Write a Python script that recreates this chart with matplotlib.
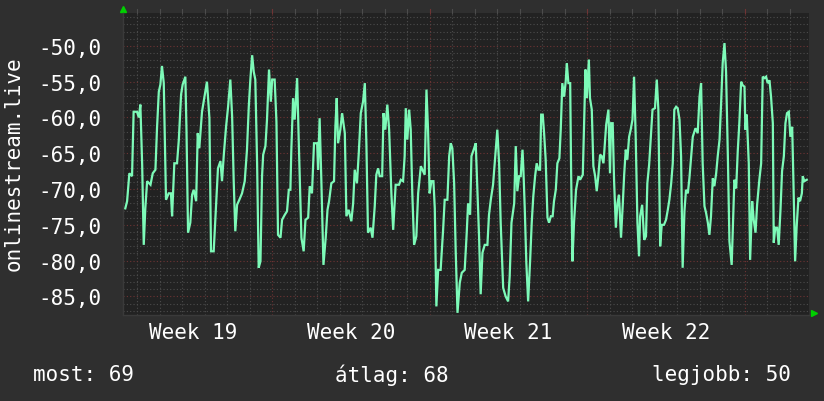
import matplotlib
matplotlib.use('Agg')
import matplotlib.pyplot as plt
import matplotlib.transforms as mtransforms
import numpy as np

# time in days since the Monday that starts week 19, value in dB
days = [
    0.46, 0.54, 0.64, 0.76, 0.83, 0.98, 1.06, 1.13, 1.21, 1.28, 1.35, 1.43, 1.58, 1.68, 1.80,
    1.87, 1.95, 2.02, 2.09, 2.17, 2.21, 2.27, 2.39, 2.49, 2.54, 2.64, 2.76, 2.84, 2.94, 3.01,
    3.13, 3.18, 3.25, 3.35, 3.43, 3.50, 3.61, 3.68, 3.75, 3.87, 3.98, 4.09, 4.20, 4.27, 4.39,
    4.50, 4.58, 4.69, 4.76, 4.84, 4.94, 5.03, 5.13, 5.21, 5.28, 5.35, 5.43, 5.53, 5.65, 5.77,
    5.87, 5.95, 6.02, 6.10, 6.17, 6.24, 6.32, 6.39,
    6.47, 6.54, 6.59, 6.69, 6.76, 6.85, 6.93, 6.99, 7.10, 7.18, 7.25, 7.36, 7.43, 7.55, 7.65,
    7.73, 7.80, 7.84, 7.92, 7.99, 8.10, 8.17, 8.29, 8.39, 8.47, 8.59, 8.66, 8.76, 8.85, 8.99,
    9.03, 9.10, 9.18, 9.27, 9.37, 9.45, 9.52, 9.62, 9.74, 9.80, 9.86, 9.92, 10.02, 10.10, 10.22,
    10.29, 10.39, 10.51, 10.59, 10.66, 10.76, 10.84, 10.93, 11.03, 11.11, 11.18, 11.25, 11.37,
    11.45, 11.55, 11.62, 11.70, 11.77, 11.88, 11.94, 12.02, 12.11, 12.19, 12.29, 12.37,
    12.48, 12.63, 12.71, 12.81, 12.88, 12.93, 13.00, 13.08, 13.15, 13.22, 13.30, 13.40, 13.48,
    13.60, 13.67, 13.77, 13.85, 13.92, 13.99, 14.07, 14.16, 14.22, 14.29, 14.37, 14.48, 14.59,
    14.66, 14.78, 14.86, 14.93, 15.00, 15.08, 15.15, 15.23, 15.33, 15.42, 15.55, 15.64, 15.70,
    15.79, 15.85, 15.97, 16.04, 16.12, 16.19, 16.26, 16.34, 16.44, 16.56, 16.63, 16.71, 16.81,
    16.93, 17.00, 17.08, 17.15, 17.26, 17.37, 17.48, 17.55, 17.63, 17.75, 17.82, 17.89, 17.97,
    18.04, 18.12, 18.16, 18.22, 18.29, 18.37, 18.46,
    18.53, 18.60, 18.68, 18.75, 18.83, 18.90, 18.95, 19.02, 19.08, 19.15, 19.23, 19.30, 19.38,
    19.46, 19.52, 19.60, 19.67, 19.76, 19.82, 19.89, 19.97, 20.04, 20.09, 20.16, 20.24, 20.28,
    20.34, 20.41, 20.50, 20.61, 20.68, 20.80, 20.86, 20.92, 20.98, 21.07, 21.12, 21.20, 21.27,
    21.35, 21.42, 21.49, 21.57, 21.64, 21.72, 21.84, 21.94, 22.01, 22.06, 22.13, 22.19, 22.27,
    22.34, 22.41, 22.50, 22.58, 22.64, 22.71, 22.78, 22.86, 22.93, 23.01, 23.08, 23.15, 23.23,
    23.30, 23.35, 23.44, 23.53, 23.61, 23.67, 23.75, 23.82, 23.90, 24.01, 24.09, 24.16, 24.24,
    24.31, 24.41, 24.50,
    24.58, 24.65, 24.73, 24.80, 24.87, 24.95, 25.02, 25.10, 25.17, 25.24, 25.32, 25.39, 25.47,
    25.54, 25.62, 25.69, 25.81, 25.91, 25.99, 26.06, 26.13, 26.21, 26.28, 26.36, 26.43, 26.50,
    26.58, 26.65, 26.73, 26.80, 26.88, 26.95, 27.02, 27.10, 27.17, 27.25, 27.32, 27.42, 27.54,
    27.62, 27.69, 27.76, 27.84, 27.91, 27.99, 28.03, 28.09, 28.18, 28.24, 28.33, 28.40, 28.48,
    28.55, 28.65, 28.73, 28.80, 28.88, 28.95, 29.02, 29.10, 29.17, 29.25, 29.29, 29.36, 29.44,
    29.51, 29.59, 29.66, 29.74, 29.81, 29.88, 29.96, 30.03, 30.11, 30.17, 30.24, 30.31, 30.39,
    30.46, 30.54, 30.58, 30.65, 30.76,
]

signal = [
    -72.7, -71.7, -67.8, -68.2, -59.2, -59.2, -60.0, -58.2, -66.6, -77.8, -72.7, -68.9, -69.4, -67.8, -67.3,
    -61.5, -56.4, -55.4, -52.8, -55.2, -61.7, -71.5, -70.6, -70.6, -73.8, -66.4, -66.4, -63.1, -56.8, -55.4,
    -54.3, -61.7, -76.1, -74.7, -70.8, -70.1, -71.7, -62.2, -64.3, -59.2, -57.1, -55.0, -60.1, -78.7, -78.7,
    -72.0, -67.1, -66.1, -68.9, -65.2, -61.3, -58.5, -54.7, -59.9, -68.9, -75.9, -72.2, -71.5, -70.6, -68.9,
    -64.5, -58.5, -54.7, -51.3, -53.6, -54.7, -66.4, -81.0,
    -80.1, -68.2, -65.2, -64.0, -60.3, -53.3, -57.8, -54.7, -54.7, -60.6, -76.4, -76.8, -74.3, -73.6, -73.1,
    -70.1, -70.1, -64.7, -57.3, -60.3, -54.5, -63.1, -76.8, -78.7, -74.3, -74.0, -69.6, -70.6, -63.6, -63.6,
    -67.3, -60.1, -69.2, -80.6, -76.8, -72.9, -71.7, -69.2, -68.9, -61.3, -57.3, -63.6, -61.7, -59.4, -62.2,
    -73.8, -72.9, -74.5, -72.0, -67.3, -69.2, -65.0, -59.4, -57.8, -55.2, -63.8, -76.1, -75.4,
    -76.8, -72.4, -68.0, -67.1, -68.2, -68.2, -59.4, -61.7, -58.2, -61.7, -70.6, -75.7,
    -69.4, -69.4, -68.7, -68.9, -65.4, -58.7, -63.1, -58.9, -61.7, -70.6, -77.8, -76.6, -70.6,
    -66.8, -67.3, -68.0, -56.1, -61.7, -70.6, -68.9, -68.9, -72.7, -86.4, -81.3, -81.3, -75.7,
    -71.5, -71.5, -65.4, -63.6, -64.3, -69.2, -78.7, -87.3, -83.1, -81.7, -81.3, -76.1, -72.0,
    -73.6, -65.4, -64.3, -63.6, -70.6, -76.8, -84.7, -78.9, -77.8, -77.8, -73.6, -71.5, -69.4,
    -64.5, -61.7, -66.4, -74.7, -83.8, -85.0, -85.7, -82.2, -74.7, -72.0, -64.0, -70.3, -68.2,
    -68.2, -64.5, -67.3, -72.7, -80.3, -85.7, -79.9,
    -74.7, -71.0, -68.2, -66.4, -67.3, -67.3, -59.6, -59.6, -62.2, -65.9, -74.0, -74.7, -73.8,
    -73.8, -71.7, -70.1, -66.4, -65.7, -61.7, -55.2, -57.1, -55.0, -52.4, -55.2, -55.2, -67.3,
    -80.1, -74.7, -70.1, -68.2, -68.7, -68.0, -60.8, -53.3, -57.3, -51.9, -57.3, -58.9, -66.8,
    -68.2, -70.3, -68.2, -65.2, -65.4, -66.4, -61.0, -58.9, -67.8, -60.8, -60.8, -68.7, -75.4,
    -72.0, -70.8, -76.8, -72.0, -68.0, -64.5, -65.9, -62.7, -61.7, -60.3, -54.3, -62.4, -74.7,
    -79.4, -73.8, -72.2, -77.1, -76.6, -69.2, -66.6, -62.9, -58.9, -58.7, -54.7, -58.9, -78.0,
    -75.0, -75.0, -74.3,
    -72.9, -71.5, -69.2, -66.4, -58.9, -58.5, -58.7, -60.3, -65.4, -81.0, -73.1, -70.1, -70.6,
    -68.5, -65.4, -62.7, -61.5, -62.2, -57.1, -55.2, -66.4, -72.4, -73.3, -74.7, -76.4, -73.8,
    -68.5, -69.6, -67.8, -65.4, -63.1, -58.0, -52.4, -49.6, -53.6, -65.4, -77.3, -80.6, -68.7,
    -69.9, -64.7, -60.8, -55.0, -55.5, -55.7, -61.7, -59.6, -66.4, -79.9, -71.7, -74.3, -76.1,
    -72.2, -68.7, -66.4, -54.3, -54.5, -54.3, -55.2, -54.8, -57.1, -60.8, -77.5, -75.4, -75.4,
    -77.8, -72.9, -67.5, -65.4, -60.8, -59.4, -59.2, -62.7, -61.3, -69.6, -80.1, -75.2, -71.2,
    -71.7, -70.6, -68.2, -68.9, -68.7,
]

week_labels = ['Week 19', 'Week 20', 'Week 21', 'Week 22']
ytick_values = [-50, -55, -60, -65, -70, -75, -80, -85]
series_name = 'onlinestream.live'
summary = {'most': 69, 'átlag': 68, 'legjobb': 50}

BG = '#2f2f2f'
CANVAS = '#222222'
LINE = '#7dfab8'
MINOR = '#4c4c4c'
MAJOR = '#6e3434'
ARROW = '#00d000'
FONT = 'DejaVu Sans Mono'

W, H = 824, 402
fig = plt.figure(figsize=(W / 100, H / 100), dpi=100, facecolor=BG)
ax = fig.add_axes([123.5 / W, (H - 316) / H, 686 / W, 302 / H], facecolor=CANVAS)

ax.set_xlim(0.38, 30.88)
ax.set_ylim(-87.6, -45.4)

# grid: minor every day / 1 dB, major every week / 5 dB
dot = (0, (1, 2))
top_ticks = mtransforms.blended_transform_factory(ax.transData, ax.transAxes)
for d in np.arange(1, 31):
    c = MAJOR if d % 7 == 0 else MINOR
    ax.axvline(d, color=c, lw=0.8, ls=dot, zorder=1)
    # small tick poking out above the canvas
    ax.plot([d, d], [1.0, 1.012], color=c, lw=0.8, transform=top_ticks, clip_on=False)
for v in np.arange(-87, -45):
    c = MAJOR if v % 5 == 0 else MINOR
    ax.axhline(v, color=c, lw=0.8, ls=dot, zorder=1)

ax.plot(days, signal, color=LINE, lw=1.6, zorder=3, solid_joinstyle='miter')

ax.set_yticks(ytick_values)
ax.set_yticklabels([f'{v:.1f}'.replace('.', ',') for v in ytick_values])
ax.set_xticks([3.5 + 7 * i for i in range(len(week_labels))])
ax.set_xticklabels(week_labels)
ax.tick_params(axis='both', length=0, colors='white', labelsize=15)
ax.tick_params(axis='y', pad=16)
ax.tick_params(axis='x', pad=5)
for lab in ax.get_xticklabels() + ax.get_yticklabels():
    lab.set_family(FONT)

for s in ['top', 'right']:
    ax.spines[s].set_visible(False)
for s in ['left', 'bottom']:
    ax.spines[s].set_color('#3a3a3a')
    ax.spines[s].set_linewidth(1.0)

# rrdtool-style axis arrows
ax.plot([0], [1.012], marker='^', ms=5, color=ARROW, transform=ax.transAxes, clip_on=False)
ax.plot([1.006], [0.005], marker='>', ms=5, color=ARROW, transform=ax.transAxes, clip_on=False)

fig.text(14 / W, 1 - 164 / H, series_name, rotation=90, ha='center', va='center',
         color='white', family=FONT, fontsize=15)

keys = list(summary.keys())
fig.text(33 / W, 1 - 375 / H, f'{keys[0]}: {summary[keys[0]]}', ha='left', va='center',
         color='white', family=FONT, fontsize=15)
fig.text(392 / W, 1 - 375 / H, f'{keys[1]}: {summary[keys[1]]}', ha='center', va='center',
         color='white', family=FONT, fontsize=15)
fig.text(791 / W, 1 - 375 / H, f'{keys[2]}: {summary[keys[2]]}', ha='right', va='center',
         color='white', family=FONT, fontsize=15)

fig.savefig('out.png', dpi=100, facecolor=BG)
